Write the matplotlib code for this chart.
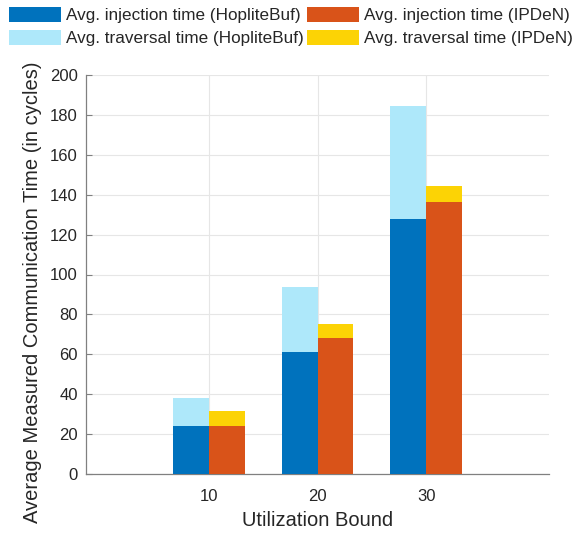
import matplotlib.pyplot as plt
import numpy as np

plt.rcParams['font.family'] = ['Liberation Sans', 'DejaVu Sans']

bounds = [10, 20, 30]
inj_hoplite = [24, 61, 128]
trav_hoplite = [14, 32.5, 56.5]   # stacked on top of injection
inj_ipden = [24, 68, 136.5]
trav_ipden = [7.5, 7, 8]

labels = ['Avg. injection time (HopliteBuf)',
          'Avg. traversal time (HopliteBuf)',
          'Avg. injection time (IPDeN)',
          'Avg. traversal time (IPDeN)']
colors = ['#0072BD', '#AEE8FA', '#D95319', '#FCD305']

grey = '#262626'
fig = plt.figure(figsize=(5.87, 5.33), dpi=100)
ax = fig.add_axes([86 / 587, 1 - 474 / 533, 463 / 587, 399 / 533])

x = np.array(bounds, dtype=float)
w = 3.3
b1 = ax.bar(x - w / 2, inj_hoplite, w, color=colors[0], zorder=3)
b2 = ax.bar(x - w / 2, trav_hoplite, w, bottom=inj_hoplite,
            color=colors[1], zorder=3)
b3 = ax.bar(x + w / 2, inj_ipden, w, color=colors[2], zorder=3)
b4 = ax.bar(x + w / 2, trav_ipden, w, bottom=inj_ipden,
            color=colors[3], zorder=3)

ax.set_xlim(-1.3, 41.3)
ax.set_ylim(0, 200)
ax.set_xticks(bounds)
ax.set_yticks(np.arange(0, 201, 20))
ax.grid(True, color='#e6e6e6', linewidth=0.8, zorder=0)
for side in ['top', 'right']:
    ax.spines[side].set_visible(False)
for side in ['left', 'bottom']:
    ax.spines[side].set_color('#808080')
    ax.spines[side].set_linewidth(0.9)
ax.tick_params(direction='in', colors='#808080', labelcolor=grey,
               labelsize=12, length=4, pad=6)
ax.tick_params(axis='x', pad=11)

ax.set_xlabel('Utilization Bound', fontsize=14.5, color=grey, va='center')
ax.xaxis.set_label_coords(0.5, -46 / 399)
ax.set_ylabel('Average Measured Communication Time (in cycles)',
              fontsize=14.5, color=grey, va='center', ha='center')
ax.yaxis.set_label_coords(-53 / 463, (474 - 292) / 399)

fig.legend([b1, b2, b3, b4], labels, ncol=2, loc='upper left',
           bbox_to_anchor=(4 / 587, 1 - 2 / 533), frameon=False,
           fontsize=12.3, handlelength=3.05, handleheight=0.95,
           handletextpad=0.3, columnspacing=0.15, labelspacing=0.38,
           borderaxespad=0.0, borderpad=0.3, labelcolor=grey)

fig.savefig('out.png', dpi=100)
